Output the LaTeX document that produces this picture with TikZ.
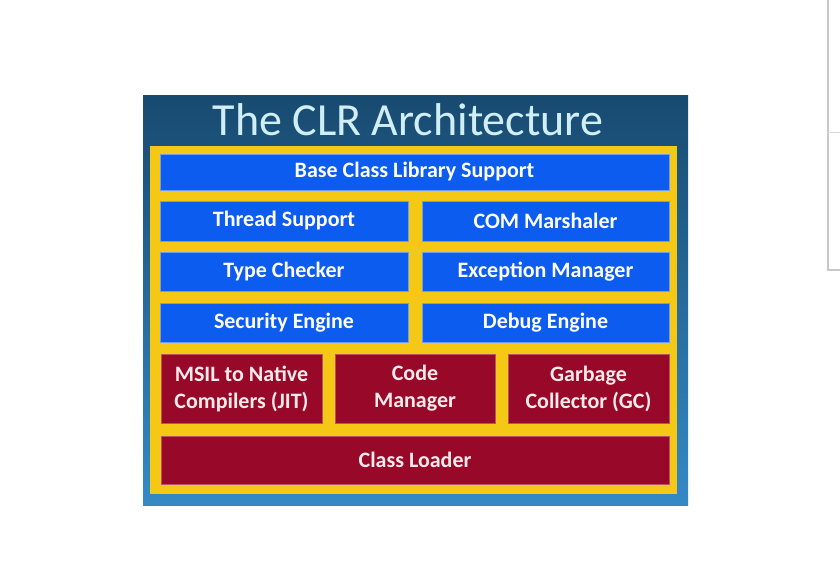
\documentclass[tikz,border=0pt]{standalone}
\usepackage{fontspec}
\setmainfont{Carlito}
\definecolor{slidetop}{RGB}{24,74,112}
\definecolor{slidebot}{RGB}{52,138,198}
\definecolor{frameyel}{RGB}{246,200,22}
\definecolor{boxblue}{RGB}{12,92,240}
\definecolor{boxred}{RGB}{152,8,40}
\definecolor{titlecol}{RGB}{208,238,246}
\definecolor{wingray}{RGB}{200,200,200}
\begin{document}
\begin{tikzpicture}[
        x=1pt, y=-1pt, % 1 пиксель = 1pt, ось y вниз
        blk/.style = {rectangle, inner sep=0pt, align=center, text=white,
            font=\bfseries\fontsize{22}{27}\selectfont}, % общий стиль блоков
        bluebox/.style = {blk, fill=boxblue, draw=boxblue!60!white, line width=0.6pt},
        redbox/.style = {blk, fill=boxred, draw=boxred!70!white, line width=0.6pt, text=white!92!red},
    ]

    \useasboundingbox (0,0) rectangle (840,578);
    \fill[white] (0,0) rectangle (840,578);

    % край окна справа
    \draw[wingray, line width=1.2pt] (828,0) -- (828,270) -- (840,270);
    \draw[wingray!70!white, line width=0.8pt] (828,132) -- (840,132);

    % слайд
    \shade[top color=slidetop, bottom color=slidebot] (143,95) rectangle (688,505);
    \node[text=titlecol, font=\fontsize{46}{50}\selectfont] (title) at (408,120) {The CLR Architecture};
    \fill[frameyel] (150,146) rectangle (677,494);

    \node[bluebox, minimum width=509, minimum height=36] (bcl) at (414.5,172) {Base Class Library Support};
    \node[bluebox, minimum width=248, minimum height=40] (thread) at (284,221) {Thread Support};
    \node[bluebox, minimum width=247, minimum height=40] (com) at (545.5,221) {COM Marshaler};
    \node[bluebox, minimum width=248, minimum height=39] (type) at (284,272) {Type Checker};
    \node[bluebox, minimum width=247, minimum height=39] (exc) at (545.5,272) {Exception Manager};
    \node[bluebox, minimum width=248, minimum height=39] (sec) at (284,322.5) {Security Engine};
    \node[bluebox, minimum width=247, minimum height=39] (dbg) at (545.5,322.5) {Debug Engine};

    \node[redbox, minimum width=161, minimum height=69] (jit) at (241.5,388.5) {MSIL to Native\\Compilers (JIT)};
    \node[redbox, minimum width=160, minimum height=69] (code) at (415,388.5) {Code\\Manager};
    \node[redbox, minimum width=161, minimum height=69] (gc) at (588.5,388.5) {Garbage\\Collector (GC)};
    \node[redbox, minimum width=508, minimum height=48] (loader) at (415,460) {Class Loader};

\end{tikzpicture}
\end{document}
